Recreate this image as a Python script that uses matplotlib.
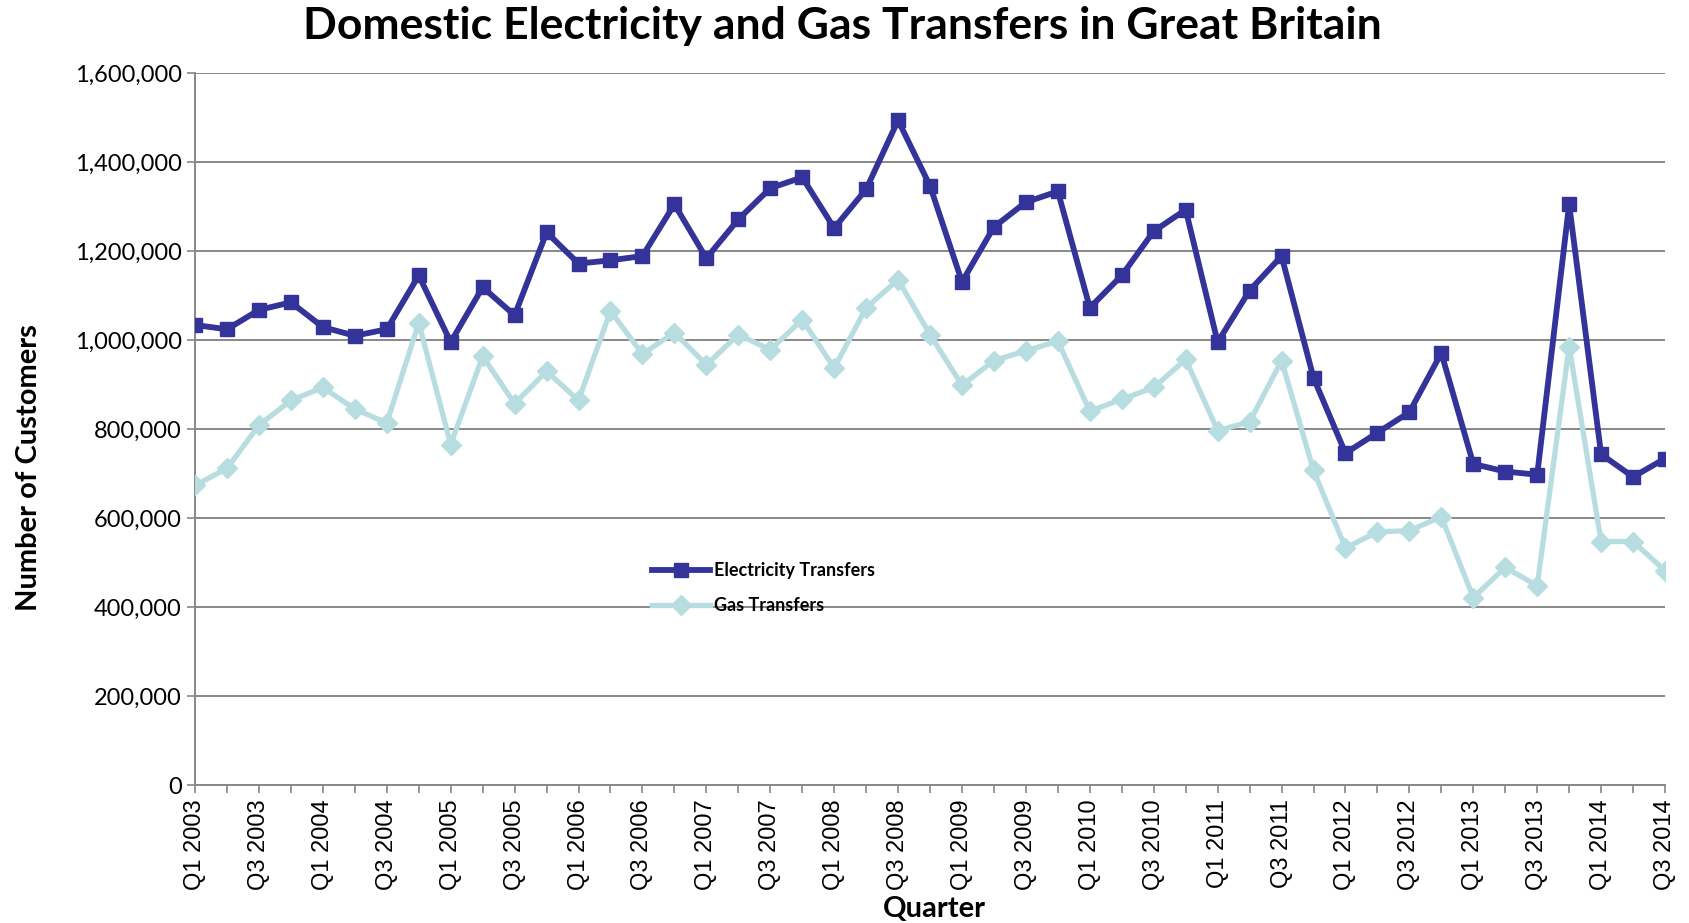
import numpy as np
import matplotlib
matplotlib.use("Agg")
import matplotlib.pyplot as plt
from matplotlib.ticker import FuncFormatter, MultipleLocator

# quarters Q1 2003 .. Q3 2014
quarters = ["Q%d %d" % (q, y) for y in range(2003, 2015) for q in (1, 2, 3, 4)][:47]

electricity = [1033600, 1024000, 1067500, 1084500, 1028800, 1009400, 1024000, 1145000,
               995000, 1118400, 1055400, 1241800, 1171600, 1178900, 1188600, 1304800,
               1183700, 1270900, 1341000, 1365300, 1251500, 1338600, 1493500, 1345900,
               1130500, 1253900, 1309600, 1333800, 1072400, 1145000, 1244200, 1292700,
               995000, 1111100, 1188600, 915000, 745600, 791600, 837600, 970700,
               721400, 704400, 697200, 1304800, 743200, 692300, 733500]

gas = [673000, 711700, 808500, 864200, 893200, 844800, 813400, 1038500,
       765000, 963400, 857000, 929600, 864200, 1065100, 968300, 1016700,
       944100, 1011900, 978000, 1045700, 936800, 1072400, 1135300, 1011900,
       898100, 953800, 975500, 997300, 840000, 866600, 893200, 956200,
       796400, 815800, 953800, 706800, 532600, 568900, 571300, 602800,
       421200, 489000, 447800, 985200, 547100, 547100, 481700]

elec_color = "#333399"
gas_color = "#b7dde0"
grid_color = "#888888"

fig = plt.figure(figsize=(16.89, 9.23), dpi=100)
ax = fig.add_axes([0.1155, 0.1495, 0.8703, 0.7715])

x = np.arange(len(quarters))
ax.plot(x, electricity, color=elec_color, lw=4.2, marker="s", ms=10,
        label="Electricity Transfers", zorder=4)
ax.plot(x, gas, color=gas_color, lw=3.8, marker="D", ms=10.5,
        label="Gas Transfers", zorder=3)

ax.set_xlim(0, len(quarters) - 1)
ax.set_ylim(0, 1600000)
ax.yaxis.set_major_locator(MultipleLocator(200000))
ax.yaxis.set_major_formatter(FuncFormatter(lambda v, p: "{:,.0f}".format(v)))
ax.grid(axis="y", color=grid_color, lw=1.4, zorder=0)
ax.set_axisbelow(True)

ax.set_xticks(x)
ax.set_xticklabels([q if i % 2 == 0 else "" for i, q in enumerate(quarters)],
                   rotation=90, fontsize=17, family="Liberation Sans")
ax.tick_params(axis="x", length=6, width=1.2, color=grid_color, pad=4)
ax.tick_params(axis="y", length=6, width=1.2, color=grid_color, labelsize=17)
for lbl in ax.get_yticklabels():
    lbl.set_family("Lato")

for s in ("top", "right"):
    ax.spines[s].set_visible(False)
for s in ("left", "bottom"):
    ax.spines[s].set_color(grid_color)
    ax.spines[s].set_linewidth(1.4)

fig.text(0.499, 0.972, "Domestic Electricity and Gas Transfers in Great Britain",
         ha="center", va="center", fontsize=32, fontweight="bold", family="Lato")
fig.text(0.017, 0.493, "Number of Customers", rotation=90, ha="center", va="center",
         fontsize=21, fontweight="bold", family="Lato")
fig.text(0.553, 0.001, "Quarter", ha="center", va="bottom",
         fontsize=21, fontweight="bold", family="Lato")

leg = ax.legend(loc="upper left", bbox_to_anchor=(0.3, 0.336), frameon=False,
                prop={"family": "Lato", "weight": "bold", "size": 13},
                handlelength=3.2, handletextpad=0.2, labelspacing=1.0)

fig.savefig("out.png", dpi=100, facecolor="w")
